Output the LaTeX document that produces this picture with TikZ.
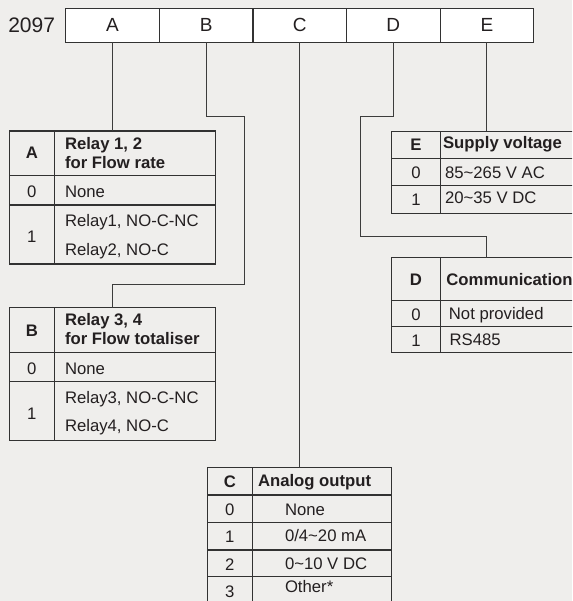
\documentclass[tikz,border=0pt]{standalone}
\usepackage{fontspec}
\setmainfont{Liberation Sans}
\usetikzlibrary{positioning}

\definecolor{paper}{RGB}{239,238,236}
\definecolor{rule}{RGB}{50,50,50}
\definecolor{wire}{RGB}{60,60,60}
\definecolor{ink}{RGB}{35,31,32}

\begin{document}
\begin{tikzpicture}[
  x=1pt, y=-1pt,
  font=\fontsize{16.7}{19}\selectfont,
  text=ink,
  digit/.style={draw=rule,line width=1.2pt,fill=white,minimum width=93.6pt,minimum height=34pt,inner sep=0pt,outer sep=0pt,font=\fontsize{19}{22}\selectfont},
  frame/.style={draw=rule,line width=1.1pt,inner sep=0pt,outer sep=0pt,anchor=north west},
  grid/.style={draw=rule,line width=1.1pt},
  wire/.style={draw=wire,line width=0.9pt},
  key/.style={inner sep=0pt,anchor=base,font=\fontsize{16.7}{19}\selectfont\bfseries},
  num/.style={inner sep=0pt,anchor=base},
  txt/.style={inner sep=0pt,anchor=base west},
  head/.style={inner sep=0pt,anchor=west,align=left,font=\fontsize{16.7}{19}\selectfont\bfseries},
  title/.style={inner sep=0pt,anchor=base west,font=\fontsize{16.7}{19}\selectfont\bfseries},
]
\useasboundingbox[fill=paper] (0,0) rectangle (572,601);
\clip (0,0) rectangle (572,601);

% order code
\node[digit, anchor=north west] (cA) at (65.7,8.3) {A};
\node[digit, right=0pt of cA] (cB) {B};
\node[digit, right=0pt of cB] (cC) {C};
\node[digit, right=0pt of cC] (cD) {D};
\node[digit, right=0pt of cD] (cE) {E};
\node[inner sep=0pt, left=10.5pt of cA, font=\fontsize{21}{24}\selectfont] (code) {2097};

% A: relay 1, 2
\begin{scope}[shift={(9.3,131)}]
\node[frame, minimum width=206.4pt, minimum height=133pt] (tabA) at (0,0) {};
\draw[grid] (45,0) -- (45,133) (0,44.5) -- (206.4,44.5) (0,74) -- (206.4,74);
\node[key] (aKey) at (22.5,28) {A};
\node[head] (aHead) at (55.5,21.6) {Relay 1, 2\\for Flow rate};
\node[num] (a0) at (22.5,67) {0};
\node[txt] (a0t) at (55.5,67) {None};
\node[num] (a1) at (22.5,112) {1};
\node[txt] (a1t) at (55.5,95.3) {Relay1, NO-C-NC};
\node[txt] (a1u) at (55.5,124) {Relay2, NO-C};
\end{scope}

% B: relay 3, 4
\begin{scope}[shift={(9.3,307.7)}]
\node[frame, minimum width=206.4pt, minimum height=133pt] (tabB) at (0,0) {};
\draw[grid] (45,0) -- (45,133) (0,44.5) -- (206.4,44.5) (0,74) -- (206.4,74);
\node[key] (bKey) at (22.5,28.3) {B};
\node[head] (bHead) at (55.5,21.4) {Relay 3, 4\\for Flow totaliser};
\node[num] (b0) at (22.5,66.5) {0};
\node[txt] (b0t) at (55.5,66.5) {None};
\node[num] (b1) at (22.5,111.6) {1};
\node[txt] (b1t) at (55.5,95.6) {Relay3, NO-C-NC};
\node[txt] (b1u) at (55.5,124) {Relay4, NO-C};
\end{scope}

% C: analog output
\begin{scope}[shift={(207.3,467.7)}]
\node[frame, minimum width=184.4pt, minimum height=136.4pt] (tabC) at (0,0) {};
\draw[grid] (45,0) -- (45,136.4);
\foreach \y in {27.3,54.6,82.3,109} \draw[grid] (0,\y) -- (184.4,\y);
\node[key] (cKey) at (22.5,19.6) {C};
\node[title] (cHead) at (50.5,18.3) {Analog output};
\node[num] (c0) at (22.5,47.3) {0};
\node[txt] (c0t) at (77.5,47.3) {None};
\node[num] (c1) at (22.5,75) {1};
\node[txt] (c1t) at (77.5,74) {0/4\textasciitilde 20 mA};
\node[num] (c2) at (22.5,102.3) {2};
\node[txt] (c2t) at (77.5,101.6) {0\textasciitilde 10 V DC};
\node[num] (c3) at (22.5,130) {3};
\node[txt] (c3t) at (77.5,124.6) {Other*};
\end{scope}

% D: communication
\begin{scope}[shift={(391.7,257.7)}]
\node[frame, minimum width=208.3pt, minimum height=95pt] (tabD) at (0,0) {};
\draw[grid] (48.5,0) -- (48.5,95) (0,42.6) -- (208.3,42.6) (0,69) -- (208.3,69);
\node[key] (dKey) at (24.3,27.3) {D};
\node[title] (dHead) at (54.5,27.3) {Communication};
\node[num] (d0) at (24.3,62.3) {0};
\node[txt] (d0t) at (57,61.6) {Not provided};
\node[num] (d1) at (24.3,89) {1};
\node[txt] (d1t) at (57.7,88) {RS485};
\end{scope}

% E: supply voltage
\begin{scope}[shift={(391.7,131.5)}]
\node[frame, minimum width=208.3pt, minimum height=81.8pt] (tabE) at (0,0) {};
\draw[grid] (48.5,0) -- (48.5,81.8) (0,26.8) -- (208.3,26.8) (0,54.2) -- (208.3,54.2);
\node[key] (eKey) at (24.3,19.2) {E};
\node[title] (eHead) at (51.2,16.8) {Supply voltage};
\node[num] (e0) at (24.3,47.5) {0};
\node[txt] (e0t) at (53.2,46.8) {85\textasciitilde 265 V AC};
\node[num] (e1) at (24.3,74.5) {1};
\node[txt] (e1t) at (53.2,71.8) {20\textasciitilde 35 V DC};
\end{scope}

% connectors
\coordinate (kB1) at (244.5,116.7);
\coordinate (kB2) at (112.5,284.3);
\coordinate (kD1) at (360.6,116.7);
\coordinate (kD2) at (486.5,236);
\draw[wire] (cA.south) -- (cA.south |- tabA.north);
\draw[wire] (cB.south) |- (kB1) |- (kB2) -- (kB2 |- tabB.north);
\draw[wire] (cC.south) -- (cC.south |- tabC.north);
\draw[wire] (cD.south) |- (kD1) |- (kD2) -- (kD2 |- tabD.north);
\draw[wire] (cE.south) -- (cE.south |- tabE.north);
\end{tikzpicture}
\end{document}
